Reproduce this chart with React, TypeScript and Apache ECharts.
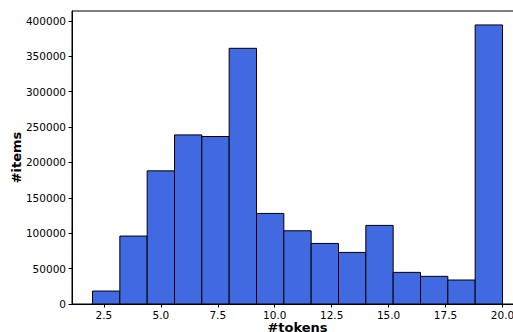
import React, { useEffect, useRef } from "react";
import * as echarts from "echarts";

const binEdges = [2, 3.2, 4.4, 5.6, 6.8, 8, 9.2, 10.4, 11.6, 12.8, 14, 15.2, 16.4, 17.6, 18.8, 20];
const counts = [18300, 96000, 188200, 239000, 236700, 361400, 128000, 103500, 85600, 72900, 111100, 44700, 39100, 33900, 394400];
const xTicks = [2.5, 5.0, 7.5, 10.0, 12.5, 15.0, 17.5, 20.0];
const yTicks = [0, 50000, 100000, 150000, 200000, 250000, 300000, 350000, 400000];
const xLabel = "#tokens";
const yLabel = "#items";

const FONT = "DejaVu Sans";

export default function App() {
  const ref = useRef<HTMLDivElement>(null);
  useEffect(() => {
    if (!ref.current) return;
    const chart = echarts.init(ref.current, undefined, { renderer: "svg" });
    const data = counts.map((c, i) => [binEdges[i], binEdges[i + 1], c]);
    const xMin = binEdges[0] - 0.05 * (binEdges[binEdges.length - 1] - binEdges[0]);
    const xMax = binEdges[binEdges.length - 1] + 0.05 * (binEdges[binEdges.length - 1] - binEdges[0]);
    const yMax = Math.max(...counts) * 1.05;
    chart.setOption({
      animation: false,
      grid: {
        left: 72,
        top: 11,
        right: 7,
        bottom: 28,
        containLabel: false,
        outerBoundsMode: "none",
        show: true,
        borderColor: "#000",
        borderWidth: 1,
        backgroundColor: "transparent",
      },
      xAxis: {
        type: "value",
        min: xMin,
        max: xMax,
        name: xLabel,
        nameLocation: "middle",
        nameGap: 17,
        nameMoveOverlap: false,
        nameTextStyle: { fontFamily: FONT, fontSize: 13, fontWeight: "bold", color: "#000" },
        axisLine: { show: true, onZero: false, lineStyle: { color: "#000", width: 1 } },
        axisTick: { show: true, inside: false, length: 3.5, lineStyle: { color: "#000" }, customValues: xTicks },
        axisLabel: {
          show: true,
          margin: 5,
          fontFamily: FONT,
          fontSize: 10.5,
          color: "#000",
          customValues: xTicks,
          formatter: (v: number) => v.toFixed(1),
        },
        splitLine: { show: false },
      },
      yAxis: {
        type: "value",
        min: 0,
        max: yMax,
        name: yLabel,
        nameLocation: "middle",
        nameGap: 49,
        nameMoveOverlap: false,
        nameTextStyle: { fontFamily: FONT, fontSize: 13, fontWeight: "bold", color: "#000" },
        axisLine: { show: true, lineStyle: { color: "#000", width: 1 } },
        axisTick: { show: true, inside: false, length: 3.5, lineStyle: { color: "#000" }, customValues: yTicks },
        axisLabel: {
          show: true,
          margin: 6,
          fontFamily: FONT,
          fontSize: 10.5,
          color: "#000",
          customValues: yTicks,
          formatter: (v: number) => String(Math.round(v)),
        },
        splitLine: { show: false },
      },
      series: [
        {
          type: "custom",
          data,
          encode: { x: [0, 1], y: 2 },
          renderItem: (params: any, api: any) => {
            const p0 = api.coord([api.value(0), api.value(2)]);
            const p1 = api.coord([api.value(1), 0]);
            return {
              type: "rect",
              shape: { x: p0[0], y: p0[1], width: p1[0] - p0[0], height: p1[1] - p0[1] },
              style: { fill: "#4169E1", stroke: "#000", lineWidth: 1 },
            };
          },
        },
      ],
    });
    return () => chart.dispose();
  }, []);
  return (
    <div style={{ position: "fixed", left: 0, top: 0, width: 513, height: 332, overflow: "hidden", background: "#fff" }}>
      <div ref={ref} style={{ width: 530, height: 332 }} />
    </div>
  );
}
